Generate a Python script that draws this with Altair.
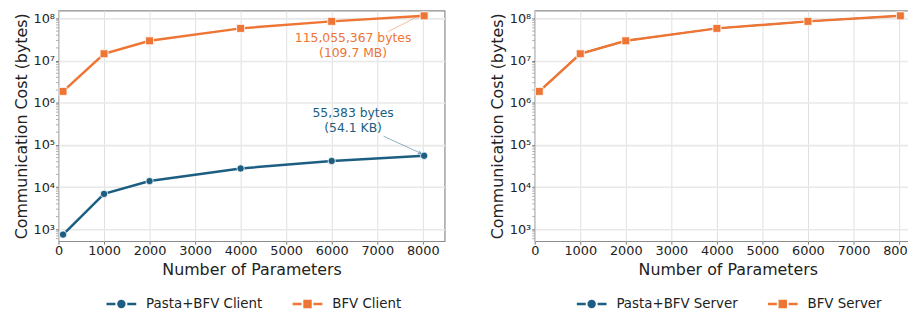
import altair as alt
import pandas as pd

# ---------------- data ----------------
params = [100, 1000, 2000, 4000, 6000, 8030]

pasta_client = [750, 6900, 13900, 27700, 41700, 55383]
bfv_client = [1.86e6, 1.45e7, 2.94e7, 5.8e7, 8.5e7, 115055367]

pasta_server = [1.86e6, 1.45e7, 2.94e7, 5.8e7, 8.5e7, 115055367]
bfv_server = [1.86e6, 1.45e7, 2.94e7, 5.8e7, 8.5e7, 115055367]

client_names = ["Pasta+BFV Client", "BFV Client"]
server_names = ["Pasta+BFV Server", "BFV Server"]

x_ticks = [0, 1000, 2000, 3000, 4000, 5000, 6000, 7000, 8000]
y_ticks = [1e3, 1e4, 1e5, 1e6, 1e7, 1e8]
minor_mult = [2, 3, 4, 5, 6, 7, 8, 9]
minor_decades = [1e2, 1e3, 1e4, 1e5, 1e6, 1e7, 1e8]

# annotations (text in data coordinates, arrow from text to point)
ann_text = ["115,055,367 bytes\n(109.7 MB)", "55,383 bytes\n(54.1 KB)"]
ann_x = [6470, 6470]
ann_y = [3.45e7, 5.68e5]
arrow_x = [7240, 7140]
arrow_y = [4.87e7, 1.61e5]
arrow_x2 = [7924, 7961]
arrow_y2 = [1.157e8, 6.3e4]
arrow_angle = [333, 25]

BLUE = "#1c5e82"
ORANGE = "#ee7533"
FONT = "DejaVu Sans"

CIRCLE_PATH = ("M-2,0H-0.8M0.8,0H2"
               "M-0.4,0A0.4,0.4,0,1,1,0.4,0A0.4,0.4,0,1,1,-0.4,0Z")
SQUARE_PATH = "M-2,0H-0.8M0.8,0H2M-0.4,-0.4H0.4V0.4H-0.4Z"
HEAD_PATH = "M-1,-0.6L0,0L-1,0.6"


def make_df(names, series_a, series_b, width_a):
    rows = []
    for name, vals, marker, msize, lw in [
            (names[0], series_a, "circle", 55, width_a),
            (names[1], series_b, "square", 64, 2.5)]:
        for p, v in zip(params, vals):
            rows.append({"params": p, "cost": v, "series": name,
                         "marker": marker, "msize": msize, "lw": lw})
    return pd.DataFrame(rows)


def panel(df, names, annotate, legend_x):
    color_scale = alt.Scale(domain=names, range=[BLUE, ORANGE])
    shape_scale = alt.Scale(domain=names, range=[CIRCLE_PATH, SQUARE_PATH])

    x = alt.X("params:Q",
              scale=alt.Scale(domain=[0, 8480], nice=False, zero=False),
              axis=alt.Axis(values=x_ticks, title="Number of Parameters",
                            format="d", labelFlush=False))
    y = alt.Y("cost:Q",
              scale=alt.Scale(type="log", domain=[522, 1.54e8], nice=False),
              axis=alt.Axis(values=y_ticks, title="Communication Cost (bytes)",
                            labelExpr="'10' + ['⁰','¹','²','³','⁴','⁵','⁶','⁷','⁸','⁹'][round(log(datum.value)/LN10)]",
                            gridWidth=1.6, gridColor="#e8e8e8"))

    base = alt.Chart(df)
    lines = base.mark_line().encode(
        x=x, y=y,
        color=alt.Color("series:N", scale=color_scale, legend=None),
        strokeWidth=alt.StrokeWidth("lw:Q", scale=None),
        order=alt.Order("params:Q"),
    )
    points = base.mark_point(filled=True, opacity=1, stroke="white",
                             strokeWidth=0.8).encode(
        x=x, y=y,
        color=alt.Color("series:N", scale=color_scale, legend=None),
        shape=alt.Shape("marker:N", scale=None),
        size=alt.Size("msize:Q", scale=None),
    )
    leg = alt.Legend(orient="none", legendX=legend_x, legendY=287.5,
                     direction="horizontal", title=None,
                     labelFontSize=13.5, labelFont=FONT, labelColor="#222",
                     symbolSize=225, symbolStrokeWidth=2.5, labelOffset=16,
                     columnPadding=25, symbolOpacity=1, padding=0)
    legend_layer = base.mark_point(
        filled=True, opacity=0, strokeWidth=2.5).encode(
        x=x, y=y,
        fill=alt.Fill("series:N", scale=color_scale, legend=leg),
        stroke=alt.Stroke("series:N", scale=color_scale, legend=leg),
        shape=alt.Shape("series:N", scale=shape_scale, legend=leg),
    )

    minor = [m * d for d in minor_decades for m in minor_mult
             if 522 <= m * d <= 1.54e8]
    mdf = pd.DataFrame({"cost": minor})
    minor_ticks = alt.Chart(mdf).mark_rule(color="#999", strokeWidth=0.8).encode(
        y=alt.Y("cost:Q"), x=alt.value(-2.5), x2=alt.value(0))

    layers = [legend_layer, minor_ticks, lines, points]

    if annotate:
        adf = pd.DataFrame({"x": ann_x, "y": ann_y, "text": ann_text,
                            "c": [ORANGE, BLUE],
                            "ax": arrow_x, "ay": arrow_y,
                            "ax2": arrow_x2, "ay2": arrow_y2,
                            "ang": arrow_angle})
        abase = alt.Chart(adf)
        arrows = abase.mark_rule(strokeWidth=0.9, opacity=0.55).encode(
            x=alt.X("ax:Q"), y=alt.Y("ay:Q"),
            x2="ax2:Q", y2="ay2:Q",
            color=alt.Color("c:N", scale=None),
        )
        heads = abase.mark_point(shape=HEAD_PATH, filled=False, size=36,
                                 strokeWidth=0.9, opacity=0.55).encode(
            x=alt.X("ax2:Q"), y=alt.Y("ay2:Q"),
            angle=alt.Angle("ang:Q", scale=None),
            color=alt.Color("c:N", scale=None),
        )
        texts = abase.mark_text(font=FONT, fontSize=12.5, lineBreak="\n",
                                lineHeight=15, align="center",
                                baseline="middle").encode(
            x=alt.X("x:Q"), y=alt.Y("y:Q"), text="text:N",
            color=alt.Color("c:N", scale=None),
        )
        layers += [arrows, heads, texts]

    return alt.layer(*layers).properties(width=390, height=233)


left = panel(make_df(client_names, pasta_client, bfv_client, 2.5),
             client_names, True, 54.5)
right = panel(make_df(server_names, pasta_server, bfv_server, 1.5),
              server_names, False, 48.5)

chart = alt.hconcat(left, right, spacing=43).resolve_scale(
    color="independent", fill="independent", stroke="independent",
    shape="independent").resolve_legend(
    color="independent", fill="independent", stroke="independent",
    shape="independent").properties(
    padding={"left": 4, "top": 0, "right": -14, "bottom": -3}
).configure_view(
    stroke="#8c8c8c", strokeWidth=1.2
).configure_axis(
    labelFont=FONT, titleFont=FONT, labelFontSize=13, titleFontSize=16,
    labelColor="#222", titleColor="#222", titleFontWeight="normal",
    domain=False, tickColor="#777", tickSize=3, gridColor="#e0e0e0",
    gridWidth=1
).configure_axisX(
    labelPadding=0.5, titlePadding=4
).configure_axisY(
    labelPadding=1, titlePadding=4
)

chart.save("out.html", embed_options={"renderer": "svg", "actions": False})
